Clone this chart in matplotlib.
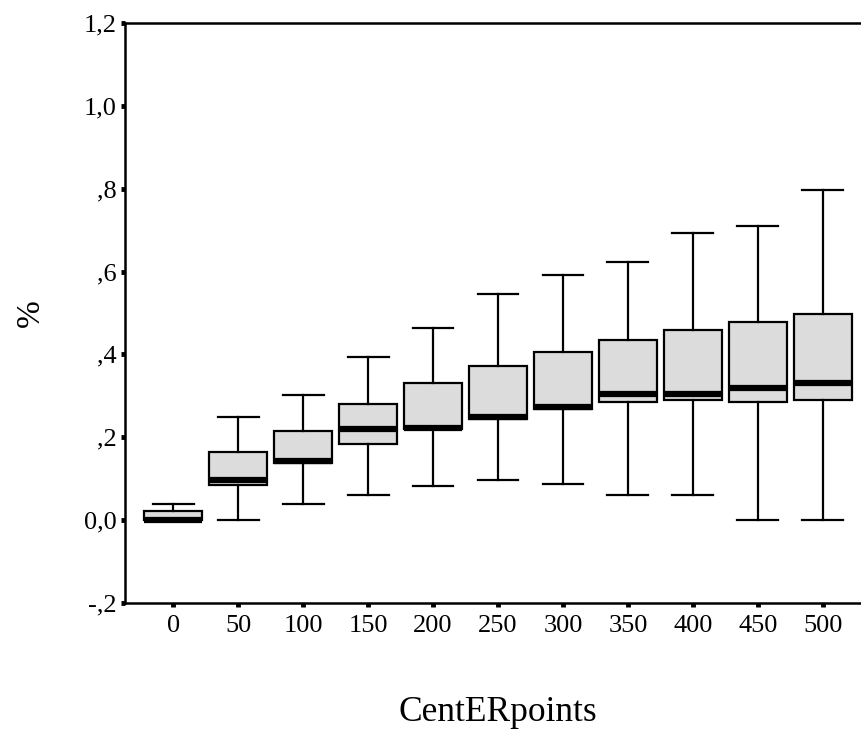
import numpy as np
import matplotlib.pyplot as plt

# Boxplot summary per CentERpoints level
points = ['0', '50', '100', '150', '200', '250', '300', '350', '400', '450', '500']
whis_lo = [0.0, 0.0, 0.040, 0.060, 0.083, 0.098, 0.088, 0.060, 0.060, 0.0, 0.0]
q1 = [0.0, 0.084, 0.138, 0.185, 0.219, 0.245, 0.268, 0.286, 0.291, 0.286, 0.291]
median = [0.0, 0.098, 0.143, 0.219, 0.223, 0.249, 0.273, 0.305, 0.305, 0.320, 0.331]
q3 = [0.022, 0.165, 0.214, 0.281, 0.330, 0.373, 0.406, 0.436, 0.459, 0.479, 0.498]
whis_hi = [0.040, 0.248, 0.302, 0.393, 0.465, 0.547, 0.591, 0.624, 0.692, 0.710, 0.798]

ytick_vals = [-0.2, 0.0, 0.2, 0.4, 0.6, 0.8, 1.0, 1.2]
ytick_labels = ['-,2', '0,0', ',2', ',4', ',6', ',8', '1,0', '1,2']

plt.rcParams['font.family'] = ['Liberation Serif', 'DejaVu Serif']

fig = plt.figure(figsize=(8.61, 7.33), dpi=100)
W, H = 861, 733
ax = fig.add_axes([125 / W, (H - 603) / H, (871 - 125) / W, (603 - 23) / H])

stats = []
for i in range(len(points)):
    stats.append(dict(med=median[i], q1=q1[i], q3=q3[i],
                      whislo=whis_lo[i], whishi=whis_hi[i], fliers=[]))

ax.bxp(stats, positions=np.arange(len(points)), widths=0.9, capwidths=0.63,
       patch_artist=True, showfliers=False,
       boxprops=dict(facecolor='#dcdcdc', edgecolor='black', linewidth=1.6),
       medianprops=dict(color='black', linewidth=4.5, solid_capstyle='butt'),
       whiskerprops=dict(color='black', linewidth=1.6),
       capprops=dict(color='black', linewidth=1.6))

ax.set_xlim(-0.74, len(points) - 1 + 0.74)
ax.set_ylim(-0.2, 1.2)
ax.set_xticks(np.arange(len(points)))
ax.set_xticklabels(points, fontsize=19)
ax.set_yticks(ytick_vals)
ax.set_yticklabels(ytick_labels, fontsize=19)

for s in ['left', 'bottom', 'top', 'right']:
    ax.spines[s].set_linewidth(1.8)

ax.tick_params(axis='both', direction='out', length=3, width=3.5, color='black')
ax.tick_params(axis='x', pad=6)
ax.tick_params(axis='y', pad=3)

ax.set_xlabel('CentERpoints', fontsize=25.5, labelpad=42)
ax.set_ylabel('%', fontsize=24, labelpad=27)

fig.savefig('out.png', dpi=100, facecolor='white')
